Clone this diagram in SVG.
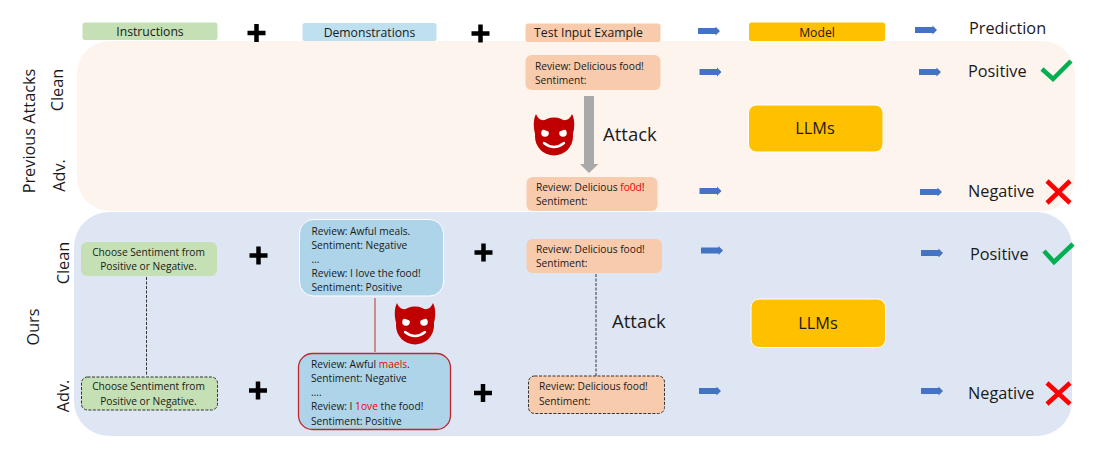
<svg xmlns="http://www.w3.org/2000/svg" width="1095" height="449" viewBox="0 0 1095 449">
<style>
text{font-family:"Open Sans","Noto Sans","Liberation Sans",sans-serif;fill:#1a1a1a}
.sm{font-size:10.200px}
.hd{font-size:12.200px;text-anchor:middle}
.lb{font-size:16.300px}
.bg{font-size:18.500px}
.r{fill:#f00000}
.g{fill:#c5e0b4}.b{fill:#aed4e9}.p{fill:#f8cbad}.y{fill:#ffc000;stroke:#fff;stroke-width:1}
.lg{fill:#bfe0ee}
.dash{stroke:#333;stroke-width:1;stroke-dasharray:3 1.5;fill:none}
.plus{stroke:#000;stroke-width:4.500;fill:none}
.ok{stroke:#00b050;stroke-width:4.500;fill:none}
.no{stroke:#ff0000;stroke-width:4.500;fill:none}
</style>
<defs>
<polygon id="arr" points="0,-3 17.500,-3 17.500,-4.500 22,0 17.500,4.500 17.500,3 0,3" fill="#4472c4"/>
<path id="plus" class="plus" d="M-9,0H9M0,-9V9"/>
<g id="devil" fill="#c00000">
<circle cx="0" cy="2.500" r="19"/>
<path d="M-18,3 C-21,-6 -21,-14 -18,-20 C-16,-15 -12,-12 -6,-15 Z"/>
<path d="M18,3 C21,-6 21,-14 18,-20 C16,-15 12,-12 6,-15 Z"/>
<circle cx="-9" cy="-1" r="3.800" fill="#fff"/>
<circle cx="9" cy="-1" r="3.800" fill="#fff"/>
<path d="M-14,-7 L-4,-3 M14,-7 L4,-3" stroke="#c00000" stroke-width="2"/>
<path d="M-10,9 Q0,17 10,9" stroke="#fff" stroke-width="2.400" fill="none" stroke-linecap="round"/>
</g>
</defs>

<g id="panel-previous"><rect x="77" y="41" width="998" height="170" rx="33" fill="#fef4ee"/></g>
<g id="panel-ours"><rect x="74" y="212" width="998" height="224" rx="35" fill="#dfe6f3"/></g>

<g id="connectors">
<use href="#arr" x="698" y="31"/><use href="#arr" x="915" y="30"/>
<use href="#arr" x="699.500" y="72"/><use href="#arr" x="919" y="72"/>
<use href="#arr" x="699.500" y="191"/><use href="#arr" x="920" y="192"/>
<use href="#arr" x="701" y="250.500"/><use href="#arr" x="921" y="253"/>
<use href="#arr" x="699" y="391"/><use href="#arr" x="921" y="391"/>
<polygon points="584,96 594,96 594,164 598.500,164 589,173 580,164 584,164" fill="#a9a9a9"/>
<path class="dash" d="M146.500,277V376"/>
<path class="dash" d="M596,274V376"/>
<path d="M375,298V352" stroke="#c0504d" stroke-width="1.200"/>
</g>

<g id="head-instructions"><rect class="g" x="82.500" y="22.500" width="135" height="17.500" rx="2.500"/><text class="hd" x="150" y="35.500">Instructions</text></g>
<g id="head-demonstrations"><rect class="lg" x="302.500" y="23" width="134" height="18" rx="2.500"/><text class="hd" x="369.500" y="36.500">Demonstrations</text></g>
<g id="head-test"><rect class="p" x="525.500" y="23.500" width="135" height="18.500" rx="2.500"/><text class="hd" x="588.500" y="37">Test Input Example</text></g>
<g id="head-model"><rect fill="#ffc000" x="749" y="22.500" width="136" height="18.500" rx="2.500"/><text class="hd" x="817" y="36.500">Model</text></g>
<g id="head-prediction"><text class="lb" x="969" y="34">Prediction</text></g>

<g id="plus-1"><use href="#plus" x="256.500" y="33"/></g>
<g id="plus-2"><use href="#plus" x="480.500" y="33.500"/></g>
<g id="plus-3"><use href="#plus" x="258.500" y="255.500"/></g>
<g id="plus-4"><use href="#plus" x="483.500" y="252.500"/></g>
<g id="plus-5"><use href="#plus" x="258" y="390.500"/></g>
<g id="plus-6"><use href="#plus" x="483" y="393"/></g>

<g id="label-previous"><text class="lb" transform="translate(35,131) rotate(-90)" text-anchor="middle">Previous Attacks</text></g>
<g id="label-prev-clean"><text class="lb" transform="translate(63,90) rotate(-90)" text-anchor="middle">Clean</text></g>
<g id="label-prev-adv"><text class="lb" transform="translate(65,175.500) rotate(-90)" text-anchor="middle">Adv.</text></g>
<g id="label-ours"><text class="lb" transform="translate(39,327) rotate(-90)" text-anchor="middle">Ours</text></g>
<g id="label-ours-clean"><text class="lb" transform="translate(69,263) rotate(-90)" text-anchor="middle">Clean</text></g>
<g id="label-ours-adv"><text class="lb" transform="translate(69,396) rotate(-90)" text-anchor="middle">Adv.</text></g>

<g id="prev-clean-input"><rect class="p" x="525.500" y="55" width="135" height="35" rx="6"/>
<text class="sm" x="535" y="69.500">Review: Delicious food!</text><text class="sm" x="535" y="84">Sentiment:</text></g>
<g id="prev-adv-input"><rect class="p" x="526.500" y="177" width="131" height="34" rx="6"/>
<text class="sm" x="536" y="191">Review: Delicious <tspan class="r">fo0d</tspan>!</text><text class="sm" x="536" y="205">Sentiment:</text></g>
<g id="prev-devil"><use href="#devil" x="554" y="134"/></g>
<g id="prev-attack"><text class="bg" x="603" y="141">Attack</text></g>
<g id="prev-llm"><rect class="y" x="748.500" y="105" width="134.500" height="47" rx="8"/><text class="lb" x="815" y="134" text-anchor="middle">LLMs</text></g>
<g id="prev-positive"><text class="lb" x="968" y="76.500">Positive</text><path class="ok" d="M1042,69L1053,79L1071,61"/></g>
<g id="prev-negative"><text class="lb" x="968" y="197">Negative</text><path class="no" d="M1047,181L1070,203M1070,181L1047,203"/></g>

<g id="ours-clean-instr"><rect class="g" x="81" y="242" width="136" height="34" rx="6"/>
<text class="sm" x="148.500" y="255.500" text-anchor="middle">Choose Sentiment from</text><text class="sm" x="148.500" y="270" text-anchor="middle">Positive or Negative.</text></g>
<g id="ours-adv-instr"><rect class="g" x="81.500" y="377" width="136" height="33" rx="6"/><rect class="dash" x="81.500" y="377" width="136" height="33" rx="6"/>
<text class="sm" x="148.500" y="389.500" text-anchor="middle">Choose Sentiment from</text><text class="sm" x="148.500" y="404.500" text-anchor="middle">Positive or Negative.</text></g>

<g id="ours-clean-demo"><rect class="b" x="299.500" y="219.500" width="144" height="76.500" rx="14" stroke="#fff" stroke-width="1"/>
<text class="sm" x="311.500" y="234.500">Review: Awful meals.</text><text class="sm" x="311.500" y="248.500">Sentiment: Negative</text><text class="sm" x="311.500" y="262.500">…</text><text class="sm" x="311.500" y="276.500">Review: I love the food!</text><text class="sm" x="311.500" y="291">Sentiment: Positive</text></g>
<g id="ours-devil"><use href="#devil" x="415" y="323"/></g>
<g id="ours-adv-demo"><rect class="b" x="298.500" y="353.500" width="152" height="76" rx="14" stroke="#c0272d" stroke-width="1.300"/>
<text class="sm" x="311" y="368">Review: Awful <tspan class="r">maels</tspan>.</text><text class="sm" x="311" y="382">Sentiment: Negative</text><text class="sm" x="311" y="396">….</text><text class="sm" x="311" y="410">Review: I <tspan class="r">1ove</tspan> the food!</text><text class="sm" x="311" y="424.500">Sentiment: Positive</text></g>

<g id="ours-clean-input"><rect class="p" x="526.500" y="239" width="135.500" height="34" rx="6"/>
<text class="sm" x="536" y="252.500">Review: Delicious food!</text><text class="sm" x="536" y="267">Sentiment:</text></g>
<g id="ours-adv-input"><rect class="p" x="528.500" y="376" width="136" height="37.500" rx="6"/><rect class="dash" x="528.500" y="376" width="136" height="37.500" rx="6"/>
<text class="sm" x="539" y="390">Review: Delicious food!</text><text class="sm" x="539" y="405">Sentiment:</text></g>
<g id="ours-attack"><text class="bg" x="612" y="327.500">Attack</text></g>
<g id="ours-llm"><rect class="y" x="751" y="299" width="134.500" height="48.500" rx="8"/><text class="lb" x="818" y="329" text-anchor="middle">LLMs</text></g>
<g id="ours-positive"><text class="lb" x="970" y="260">Positive</text><path class="ok" d="M1044,251L1054,262L1073,244"/></g>
<g id="ours-negative"><text class="lb" x="968" y="399">Negative</text><path class="no" d="M1047,383L1070,404M1070,383L1047,404"/></g>
</svg>
